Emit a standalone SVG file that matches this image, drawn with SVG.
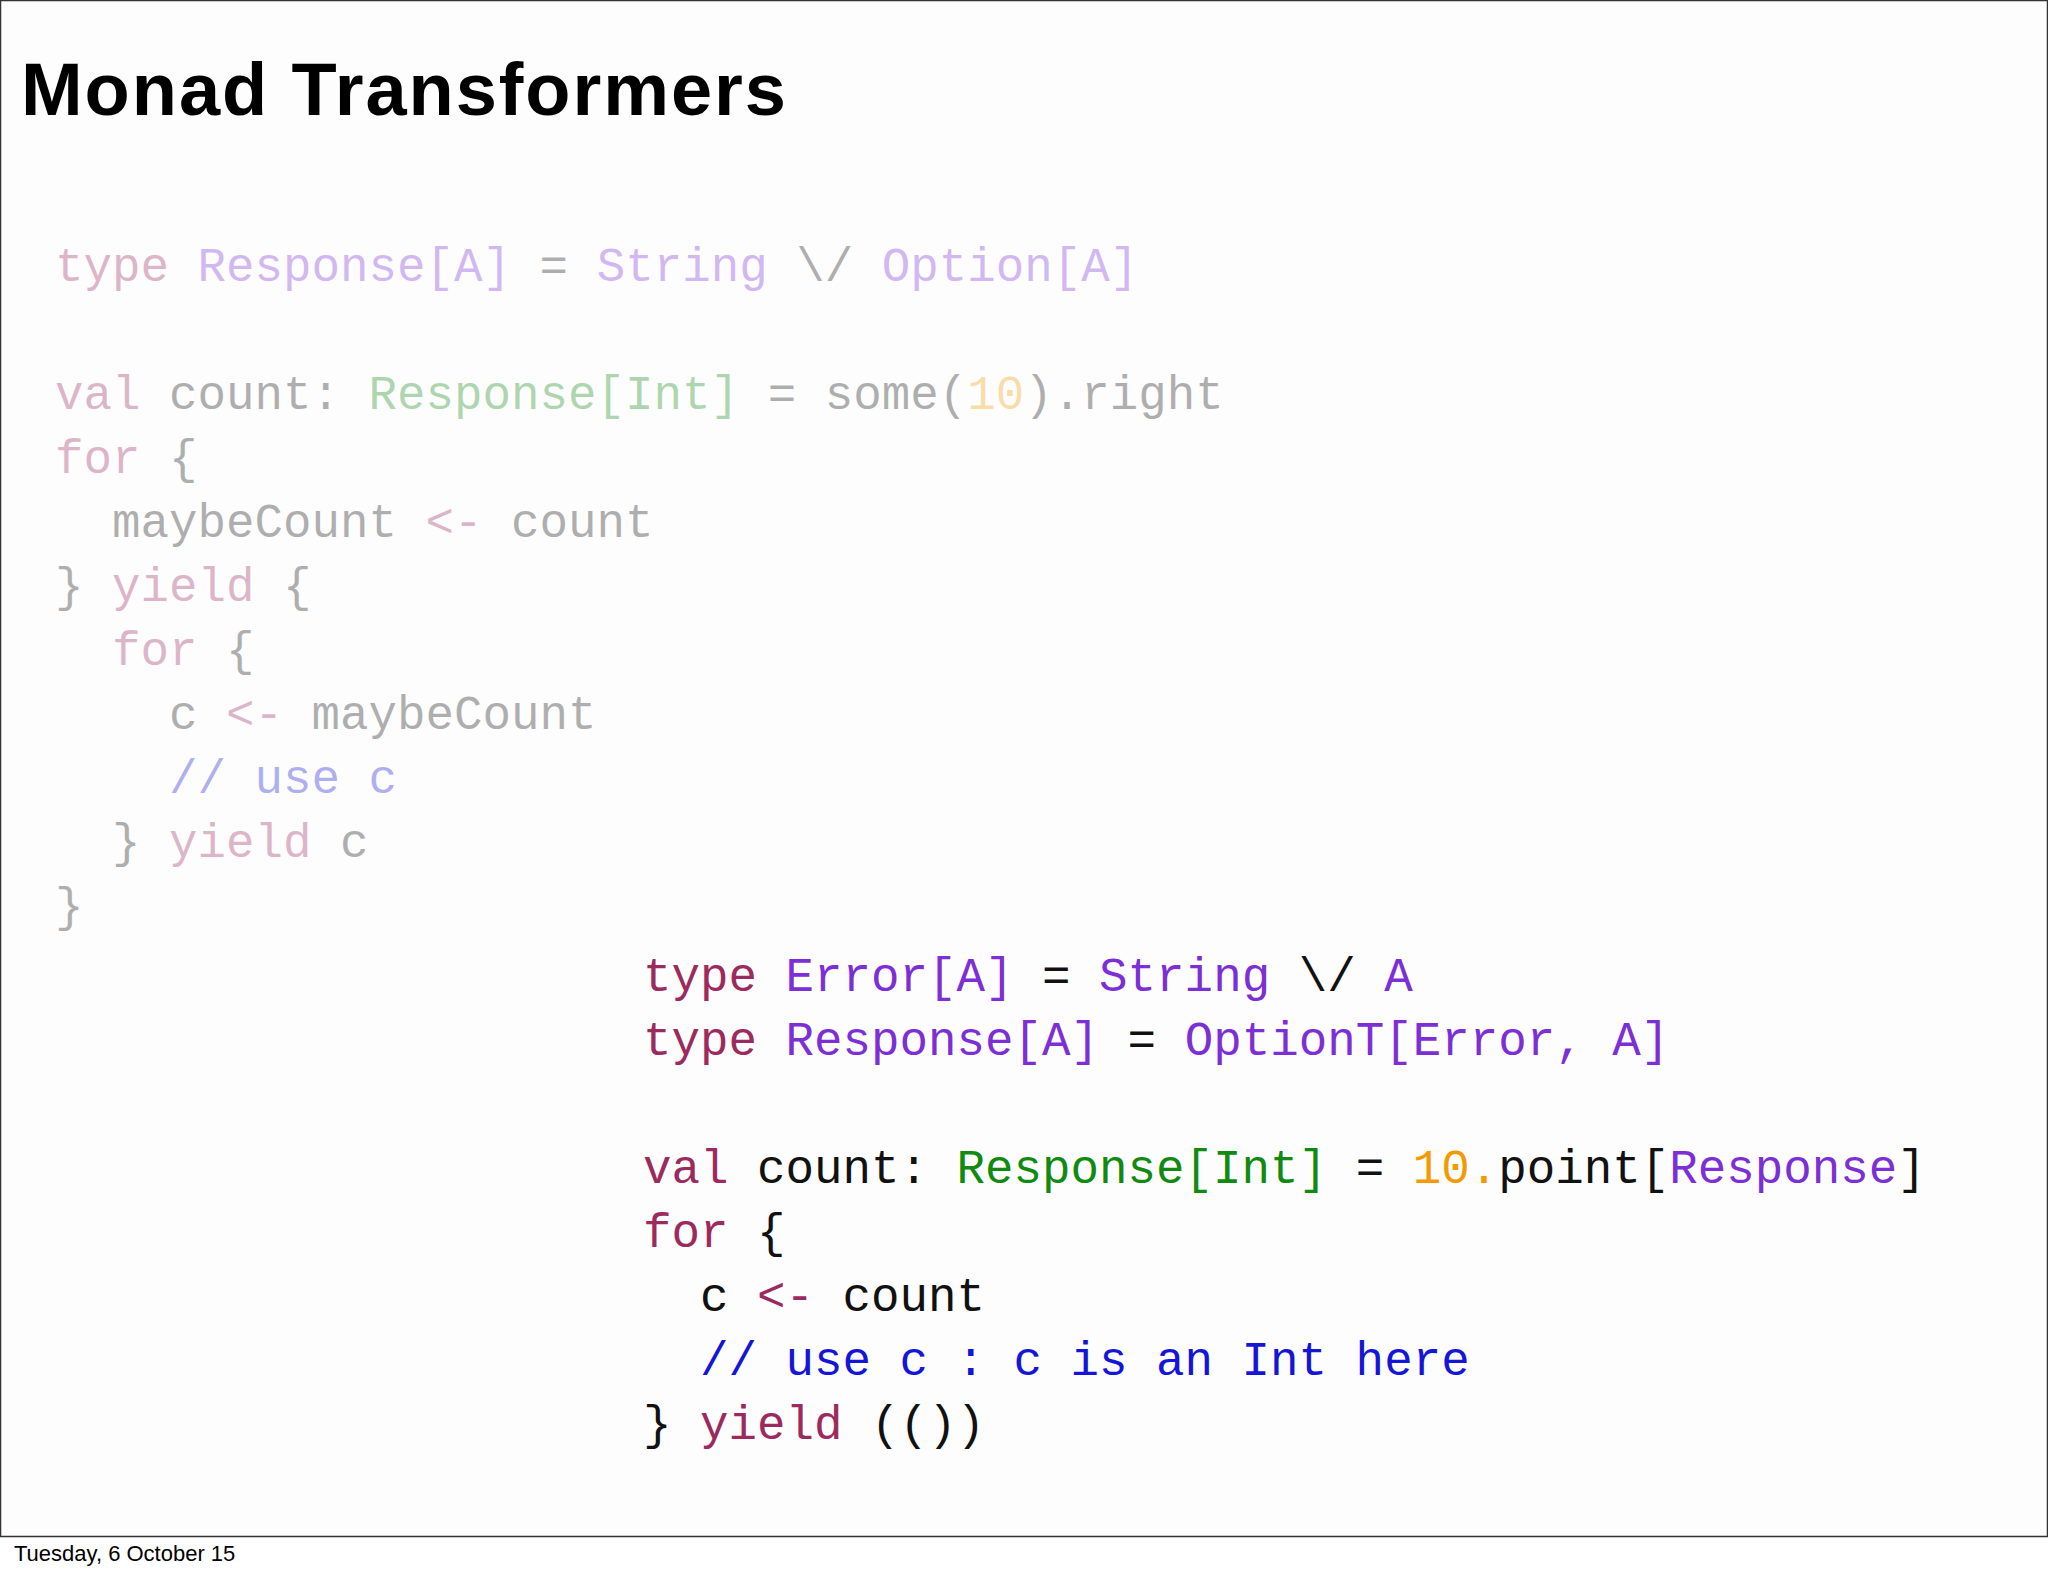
<svg xmlns="http://www.w3.org/2000/svg" width="2048" height="1576" viewBox="0 0 2048 1576">
<style>
.c{font-family:"Liberation Mono","DejaVu Sans Mono",monospace;font-size:47.5px;white-space:pre;fill:#111}
.k{fill:#9c2a5e}.t{fill:#7d2fd6}.g{fill:#108a10}.o{fill:#f29a00}.b{fill:#1515d8}
</style>
<rect x="0" y="0" width="2048" height="1576" fill="#ffffff"/>
<rect x="0.5" y="0.5" width="2047" height="1536" fill="#fdfdfd" stroke="#333" stroke-width="1.5"/>
<text x="21" y="115" font-family="Liberation Sans,Arial,sans-serif" font-weight="bold" font-size="74" textLength="765" fill="#000">Monad Transformers</text>
<g id="faded" opacity="0.33" xml:space="preserve">
<text class="c" x="55" y="281"><tspan class="k">type</tspan> <tspan class="t">Response[A]</tspan> = <tspan class="t">String</tspan> \/ <tspan class="t">Option[A]</tspan></text>
<text class="c" x="55" y="409"><tspan class="k">val</tspan> count: <tspan class="g">Response[Int]</tspan> = some(<tspan class="o">10</tspan>).right</text>
<text class="c" x="55" y="473"><tspan class="k">for</tspan> {</text>
<text class="c" x="55" y="537">  maybeCount <tspan class="k">&lt;-</tspan> count</text>
<text class="c" x="55" y="601">} <tspan class="k">yield</tspan> {</text>
<text class="c" x="55" y="665">  <tspan class="k">for</tspan> {</text>
<text class="c" x="55" y="729">    c <tspan class="k">&lt;-</tspan> maybeCount</text>
<text class="c" x="55" y="793">    <tspan class="b">// use c</tspan></text>
<text class="c" x="55" y="857">  } <tspan class="k">yield</tspan> c</text>
<text class="c" x="55" y="921">}</text>
</g>
<g id="code" xml:space="preserve">
<text class="c" x="643" y="991"><tspan class="k">type</tspan> <tspan class="t">Error[A]</tspan> = <tspan class="t">String</tspan> \/ <tspan class="t">A</tspan></text>
<text class="c" x="643" y="1055"><tspan class="k">type</tspan> <tspan class="t">Response[A]</tspan> = <tspan class="t">OptionT[Error, A]</tspan></text>
<text class="c" x="643" y="1183"><tspan class="k">val</tspan> count: <tspan class="g">Response[Int]</tspan> = <tspan class="o">10.</tspan>point[<tspan class="t">Response</tspan>]</text>
<text class="c" x="643" y="1247"><tspan class="k">for</tspan> {</text>
<text class="c" x="643" y="1311">  c <tspan class="k">&lt;-</tspan> count</text>
<text class="c" x="643" y="1375">  <tspan class="b">// use c : c is an Int here</tspan></text>
<text class="c" x="643" y="1439">} <tspan class="k">yield</tspan> (())</text>
</g>
<text x="14" y="1561" font-family="Liberation Sans,Arial,sans-serif" font-size="22" fill="#000">Tuesday, 6 October 15</text>
</svg>
